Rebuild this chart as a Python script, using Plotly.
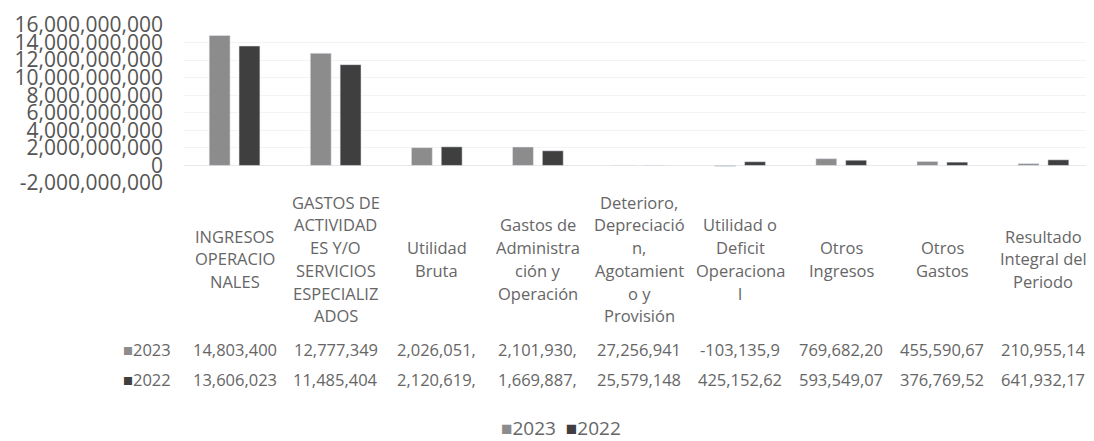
import plotly.graph_objects as go

# Estado de resultados 2023 vs 2022 (valores en pesos)
categories = [
    "INGRESOS OPERACIONALES",
    "GASTOS DE ACTIVIDADES Y/O SERVICIOS ESPECIALIZADOS",
    "Utilidad Bruta",
    "Gastos de Administración y Operación",
    "Deterioro, Depreciación, Agotamiento y Provisión",
    "Utilidad o Deficit Operacional",
    "Otros Ingresos",
    "Otros Gastos",
    "Resultado Integral del Periodo",
]
# wrapped as in the excel data table
header_lines = [
    ["INGRESOS", "OPERACIO", "NALES"],
    ["GASTOS DE", "ACTIVIDAD", "ES Y/O", "SERVICIOS", "ESPECIALIZ", "ADOS"],
    ["Utilidad", "Bruta"],
    ["Gastos de", "Administra", "ción y", "Operación"],
    ["Deterioro,", "Depreciació", "n,", "Agotamient", "o y", "Provisión"],
    ["Utilidad o", "Deficit", "Operaciona", "l"],
    ["Otros", "Ingresos"],
    ["Otros", "Gastos"],
    ["Resultado", "Integral del", "Periodo"],
]
values_2023 = [14803400900, 12777349500, 2026051400, 2101930480, 27256941,
               -103135920, 769682200, 455590670, 210955140]
values_2022 = [13606023000, 11485404000, 2120619000, 1669887000, 25579148,
               425152620, 593549070, 376769520, 641932170]
series_names = ["2023", "2022"]
y_ticks = list(range(-2_000_000_000, 16_000_000_001, 2_000_000_000))

COL_2023 = "#8c8c8c"
COL_2022 = "#3f3f3f"
TXT = "#666666"
FONT = "Open Sans"

# the page body adds an 8px margin, so the figure is a bit smaller than the window
OFF = 8
W, H = 1094 - OFF, 441 - OFF
L, R, T, B = 184 - OFF, 0, 25 - OFF, 258
plot_h = H - T - B


def py(ypix):
    """window pixel row -> paper y"""
    return (183 - ypix) / plot_h


def px(xpix):
    return (xpix - 184) / (W - L - R)


def cell_text(v):
    # excel clips the numbers inside the table cells
    return f"{v:,}"[:10]


fig = go.Figure()
fig.add_trace(go.Bar(x=categories, y=values_2023, name=series_names[0],
                     marker_color=COL_2023, showlegend=False))
fig.add_trace(go.Bar(x=categories, y=values_2022, name=series_names[1],
                     marker_color=COL_2022, showlegend=False))

annotations = []
# header row of the data table
header_mid = 259
line_h = 22.7
for i, lines in enumerate(header_lines):
    n = len(lines)
    for j, line in enumerate(lines):
        annotations.append(dict(
            x=i, xref="x", y=py(header_mid + (j - (n - 1) / 2) * line_h), yref="paper",
            text=line, showarrow=False, xanchor="center", yanchor="middle",
            font=dict(family=FONT, size=16.5, color=TXT)))

# value rows
rows = [(values_2023, COL_2023, 349), (values_2022, COL_2022, 379)]
for (vals, col, ypix), name in zip(rows, series_names):
    annotations.append(dict(
        x=px(121), xref="paper", y=py(ypix), yref="paper", xanchor="left", yanchor="middle",
        text=f'<span style="color:{col}">■</span>{name}', showarrow=False,
        font=dict(family=FONT, size=16.5, color=TXT)))
    for i, v in enumerate(vals):
        annotations.append(dict(
            x=i, xref="x", y=py(ypix), yref="paper", text=cell_text(v),
            showarrow=False, xanchor="center", yanchor="middle",
            font=dict(family=FONT, size=16.5, color=TXT)))

# legend
annotations.append(dict(
    x=px(561), xref="paper", y=py(428), yref="paper", xanchor="center", yanchor="middle",
    text=(f'<span style="color:{COL_2023}">■</span>{series_names[0]}  '
          f'<span style="color:{COL_2022}">■</span>{series_names[1]}'),
    showarrow=False, font=dict(family=FONT, size=19, color=TXT)))

fig.update_layout(
    width=W, height=H,
    margin=dict(l=L, r=R, t=T, b=B, pad=0),
    paper_bgcolor="white", plot_bgcolor="white",
    barmode="group", bargap=0.41, bargroupgap=0.3,
    font=dict(family=FONT, color=TXT),
    annotations=annotations,
    xaxis=dict(showticklabels=False, showgrid=False, zeroline=False, showline=False),
    yaxis=dict(
        range=[-2_000_000_000, 16_000_000_000],
        tickvals=y_ticks, ticktext=[f"{v:,}" for v in y_ticks],
        tickfont=dict(family=FONT, size=21, color="#555555"),
        ticklabelstandoff=20,
        showgrid=True, gridcolor="#f3f3f3", zeroline=True, zerolinecolor="#e8e8e8",
        zerolinewidth=1, showline=False),
)

fig.write_html("out.html")
